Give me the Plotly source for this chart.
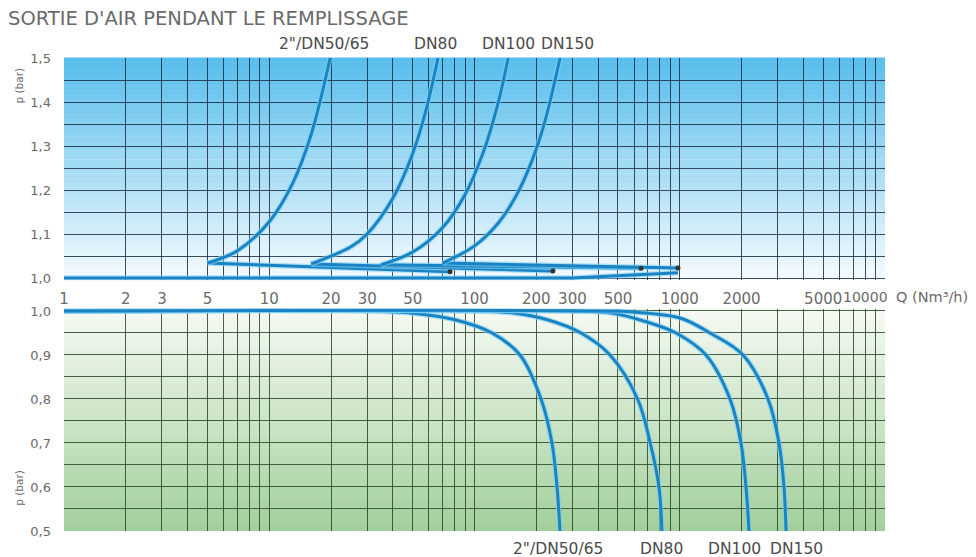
import math
import plotly.graph_objects as go

# ---------------- data ----------------
series_names = ['2"/DN50/65', "DN80", "DN100", "DN150"]

# upper chart: pressure rise while filling (curve part)
up_q = [
    [5, 7, 10, 13, 16, 19.8],
    [16, 25, 30, 40, 50, 58, 66.4],
    [35, 50, 70, 90, 110, 130, 146],
    [70, 100, 130, 160, 190, 220, 261],
]
up_p = [
    [1.034, 1.062, 1.128, 1.215, 1.326, 1.5],
    [1.032, 1.071, 1.10, 1.181, 1.283, 1.381, 1.5],
    [1.030, 1.059, 1.115, 1.19, 1.284, 1.396, 1.5],
    [1.034, 1.073, 1.124, 1.188, 1.265, 1.355, 1.5],
]
# end points (dots) reached by the near-horizontal branch
dot_q = [76, 241, 648, 980]
dot_p = [1.014, 1.016, 1.022, 1.023]
# base line at 1.0 bar
base_q = [1, 300, 980]
base_p = [1.0, 1.0, 1.012]

# lower chart: pressure drop
low_q = [
    [1, 31, 50.2, 80.4, 121.7, 166.6, 210.9, 238.5, 252.4, 261],
    [1, 95.1, 157.5, 227, 330.3, 457.4, 623, 718, 792, 819],
    [1, 292, 473, 692, 959, 1342, 1757, 1988, 2103, 2175],
    [1, 457, 572, 1003, 1404, 2033, 2692, 3045, 3220, 3295],
]
low_p = [
    [1.0, 1.0, 0.995, 0.98, 0.95, 0.9, 0.8, 0.7, 0.6, 0.5],
    [1.0, 1.0, 0.995, 0.98, 0.95, 0.9, 0.8, 0.7, 0.6, 0.5],
    [1.0, 1.0, 0.995, 0.975, 0.95, 0.9, 0.8, 0.7, 0.6, 0.5],
    [1.0, 1.0, 0.998, 0.984, 0.95, 0.9, 0.8, 0.7, 0.6, 0.5],
]

# axis grid / ticks
x_grid = [m * 10 ** d for d in range(4) for m in range(1, 10)] + [10000]
x_labels = {1: "1", 2: "2", 3: "3", 5: "5", 10: "10", 20: "20", 30: "30", 50: "50",
            100: "100", 200: "200", 300: "300", 500: "500", 1000: "1000",
            2000: "2000", 5000: "5000"}
x_text = [x_labels.get(v, "") for v in x_grid]
up_y_grid = [1.0, 1.05, 1.1, 1.15, 1.2, 1.25, 1.3, 1.35, 1.4, 1.45, 1.5]
up_y_text = ["1,0", "", "1,1", "", "1,2", "", "1,3", "", "1,4", "", "1,5"]
low_y_grid = [0.5, 0.55, 0.6, 0.65, 0.7, 0.75, 0.8, 0.85, 0.9, 0.95, 1.0]
low_y_text = ["0,5", "", "0,6", "", "0,7", "", "0,8", "", "0,9", "", "1,0"]

# ---------------- style ----------------
LINE = "#1a83c4"
HALO = "rgba(125,208,244,0.6)"
FONT = "DejaVu Sans, Liberation Sans, Arial, sans-serif"
TXT = "#6a6a6a"
LBL = "#4a4a4a"

fig = go.Figure()

def add_line(q, p, xa, ya, shape="spline"):
    fig.add_trace(go.Scatter(x=q, y=p, mode="lines", xaxis=xa, yaxis=ya,
                             line=dict(color=HALO, width=5.5, shape=shape, smoothing=1.0),
                             hoverinfo="skip", showlegend=False))
    fig.add_trace(go.Scatter(x=q, y=p, mode="lines", xaxis=xa, yaxis=ya,
                             line=dict(color=LINE, width=3, shape=shape, smoothing=1.0),
                             showlegend=False))

add_line(base_q, base_p, "x", "y", "linear")
for i in range(4):
    add_line([up_q[i][0], dot_q[i]], [up_p[i][0], dot_p[i]], "x", "y", "linear")
    add_line(up_q[i], up_p[i], "x", "y")
fig.add_trace(go.Scatter(x=dot_q, y=dot_p, mode="markers", xaxis="x", yaxis="y",
                         marker=dict(color="#333333", size=5), showlegend=False))
for i in range(4):
    add_line(low_q[i], low_p[i], "x2", "y2")

# gradient backgrounds
shapes = []
N = 48
def mix(c1, c2, t):
    return "rgb(%d,%d,%d)" % tuple(round(a + (b - a) * t) for a, b in zip(c1, c2))
top_c, top_b = (88, 190, 236), (244, 250, 253)
bot_t, bot_b = (246, 249, 243), (162, 208, 156)
for k in range(N):
    t = k / (N - 1)
    shapes.append(dict(type="rect", xref="x domain", yref="y domain", x0=0, x1=1,
                       y0=1 - (k + 1) / N, y1=1 - k / N + 0.002, line_width=0,
                       fillcolor=mix(top_c, top_b, t), layer="below"))
    shapes.append(dict(type="rect", xref="x2 domain", yref="y2 domain", x0=0, x1=1,
                       y0=1 - (k + 1) / N, y1=1 - k / N + 0.002, line_width=0,
                       fillcolor=mix(bot_t, bot_b, t), layer="below"))

GRID_TOP = "rgba(25,45,70,0.85)"
GRID_BOT = "rgba(40,70,40,0.85)"
xcommon = dict(showgrid=True, gridwidth=1, zeroline=False, ticks="", automargin=False,
               tickfont=dict(family=FONT, size=15, color=TXT))
ycommon = dict(showgrid=True, gridwidth=1, zeroline=False, ticks="", automargin=False,
               tickfont=dict(family=FONT, size=13, color=TXT))

annotations = []
top_shift = [-6, -3, 0, 7]
bot_shift = [-2, 0, -15, 10]
for i in range(4):
    annotations.append(dict(x=math.log10(up_q[i][-1]), y=1, xref="x", yref="paper",
                            text=series_names[i], showarrow=False, xanchor="center",
                            yanchor="bottom", yshift=3, xshift=top_shift[i],
                            font=dict(family=FONT, size=15.5, color=LBL)))
    annotations.append(dict(x=math.log10(low_q[i][-1]), y=0, xref="x2", yref="paper",
                            text=series_names[i], showarrow=False, xanchor="center",
                            yanchor="top", yshift=-7, xshift=bot_shift[i],
                            font=dict(family=FONT, size=15.5, color=LBL)))
annotations.append(dict(x=4, y=1.0, xref="x", yref="y", text="10000", showarrow=False,
                        xanchor="right", yanchor="middle", yshift=-19, xshift=5,
                        font=dict(family=FONT, size=14, color=TXT)))
annotations.append(dict(x=4, y=1.0, xref="x", yref="y", text="Q (Nm³/h)", showarrow=False,
                        xanchor="left", yanchor="middle", yshift=-19, xshift=9,
                        font=dict(family=FONT, size=14.5, color=TXT)))
annotations.append(dict(x=-0.064, y=0.985, xref="paper", yref="paper", text="p (bar)",
                        textangle=-90, showarrow=False, font=dict(family=FONT, size=10.5, color=TXT)))
annotations.append(dict(x=-0.064, y=0.05, xref="paper", yref="paper", text="p (bar)",
                        textangle=-90, showarrow=False, font=dict(family=FONT, size=10.5, color=TXT)))

# page body has an 8px margin: figure is 968x549, plot area lands at 64..885 / 58..531
fig.update_layout(
    width=968, height=549,
    margin=dict(l=56, r=91, t=50, b=26),
    paper_bgcolor="white", plot_bgcolor="rgba(0,0,0,0)",
    title=dict(text="SORTIE D'AIR PENDANT LE REMPLISSAGE", x=0.0, xref="container",
               xanchor="left", y=1 - 10 / 549, yref="container", yanchor="middle",
               font=dict(family=FONT, size=19.5, color="#6a6a6a")),
    xaxis=dict(type="log", range=[0, 4], anchor="y", tickvals=x_grid, ticktext=x_text,
               gridcolor=GRID_TOP, ticklabelstandoff=8, **xcommon),
    yaxis=dict(range=[0.995, 1.5], domain=[0.5302, 1], tickvals=up_y_grid, ticktext=up_y_text,
               gridcolor=GRID_TOP, ticklabelstandoff=12, **ycommon),
    xaxis2=dict(type="log", range=[0, 4], anchor="y2", tickvals=x_grid, showticklabels=False,
                gridcolor=GRID_BOT, **xcommon),
    yaxis2=dict(range=[0.5, 1.005], domain=[0, 0.4698], tickvals=low_y_grid, ticktext=low_y_text,
                gridcolor=GRID_BOT, ticklabelstandoff=12, **ycommon),
    shapes=shapes, annotations=annotations, showlegend=False,
)

fig.write_html("out.html")
